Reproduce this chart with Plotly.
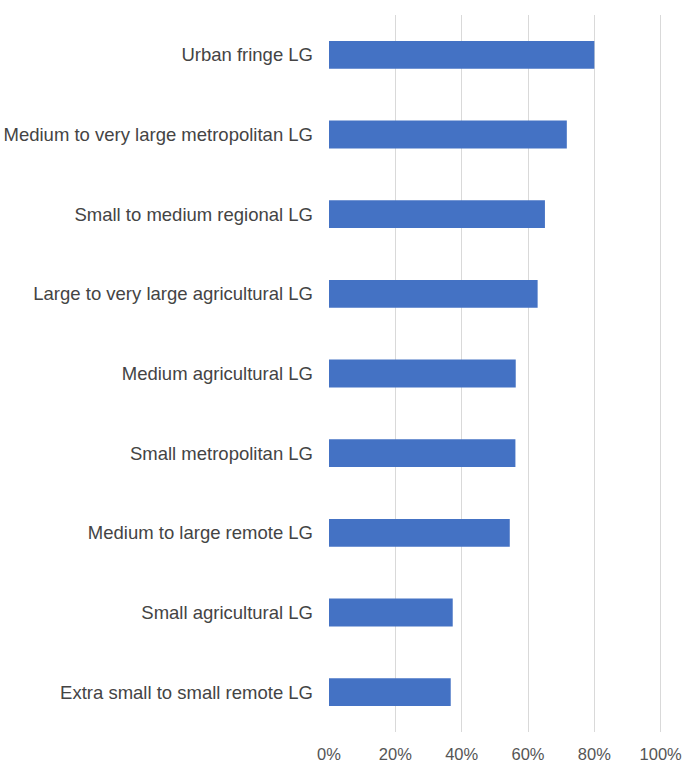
import plotly.graph_objects as go

categories = [
    "Urban fringe LG",
    "Medium to very large metropolitan LG",
    "Small to medium regional LG",
    "Large to very large agricultural LG",
    "Medium agricultural LG",
    "Small metropolitan LG",
    "Medium to large remote LG",
    "Small agricultural LG",
    "Extra small to small remote LG",
]
values = [0.80, 0.717, 0.651, 0.629, 0.563, 0.562, 0.545, 0.373, 0.367]
tick_vals = [0, 0.2, 0.4, 0.6, 0.8, 1.0]
tick_text = ["0%", "20%", "40%", "60%", "80%", "100%"]

fig = go.Figure(go.Bar(
    x=values, y=categories, orientation="h",
    marker=dict(color="#4472C4", line=dict(width=0)),
    width=0.35,
))

fig.update_layout(
    width=684, height=764,
    margin=dict(l=329, r=20, t=15, b=32, autoexpand=False),
    plot_bgcolor="white", paper_bgcolor="white",
    font=dict(family="Liberation Sans, Arial, sans-serif", size=17, color="#444444"),
    showlegend=False,
)
fig.update_xaxes(
    range=[0, 1.01], tickvals=tick_vals, ticktext=tick_text,
    showgrid=True, gridcolor="#d9d9d9", gridwidth=1,
    zeroline=False, showline=False,
    tickfont=dict(color="#555555", size=16.5),
    ticklabelstandoff=10,
    automargin=False,
)
fig.update_yaxes(
    categoryorder="array", categoryarray=categories, autorange="reversed",
    showgrid=False, zeroline=False, showline=False,
    tickfont=dict(color="#444444", size=18.5),
    ticklabelstandoff=15,
    automargin=False,
)

fig.write_html(
    "out.html",
    config={"displayModeBar": False},
    post_script="document.body.style.margin='0';document.body.style.overflow='hidden';",
)
